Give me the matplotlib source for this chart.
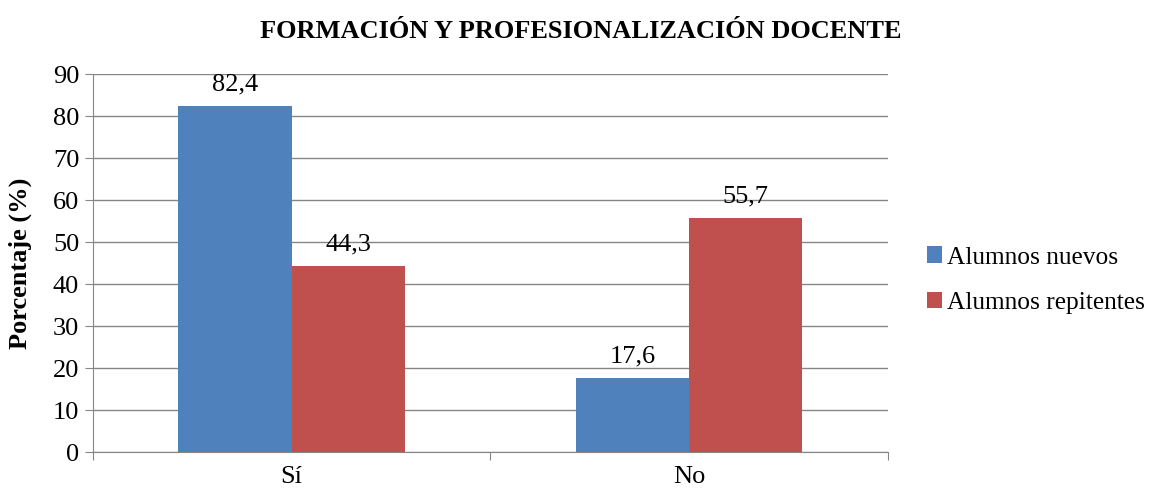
import matplotlib
matplotlib.use("Agg")
import matplotlib.pyplot as plt
import numpy as np

categories = ["Sí", "No"]
series_names = ["Alumnos nuevos", "Alumnos repitentes"]
nuevos = [82.4, 17.6]
repitentes = [44.3, 55.7]
yticks = list(range(0, 91, 10))

colors = ["#4F81BD", "#C0504D"]
plt.rcParams["font.family"] = ["Liberation Serif", "DejaVu Serif"]
fs = 19

fig = plt.figure(figsize=(11.57, 4.92), dpi=100)
ax = fig.add_axes([0.0804, 0.0813, 0.687, 0.768])

x = np.arange(len(categories))
width = 0.285
for i, (vals, name) in enumerate(zip([nuevos, repitentes], series_names)):
    pos = x + (i - 0.5) * width
    bars = ax.bar(pos, vals, width, color=colors[i], label=name, zorder=3)
    for b, v in zip(bars, vals):
        ax.text(b.get_x() + b.get_width() / 2, v + 2.6, f"{v:.1f}".replace(".", ","),
                ha="center", va="bottom", fontsize=fs)

ax.set_xlim(-0.5, 1.5)
ax.set_ylim(0, 90)
ax.set_yticks(yticks)
ax.set_yticklabels([str(t) for t in yticks], fontsize=fs)
ax.yaxis.grid(True, color="#868686", linewidth=1, zorder=0)
ax.set_xticks([-0.5, 0.5, 1.5], minor=False)
ax.set_xticklabels([])
ax.set_xticks(x, minor=True)
ax.set_xticklabels(categories, minor=True, fontsize=fs)
ax.tick_params(axis="x", which="minor", length=0, pad=10)
ax.tick_params(axis="x", which="major", length=6, color="#868686")
ax.tick_params(axis="y", length=6, color="#868686", pad=4)
for side in ["top", "right"]:
    ax.spines[side].set_visible(False)
for side in ["left", "bottom"]:
    ax.spines[side].set_color("#868686")

ax.set_ylabel("Porcentaje (%)", fontsize=fs, fontweight="bold", labelpad=15)
fig.suptitle("FORMACIÓN Y PROFESIONALIZACIÓN DOCENTE", fontsize=fs,
             fontweight="bold", x=0.502, y=0.96)

ax.legend(loc="center left", bbox_to_anchor=(1.02, 0.455), frameon=False,
          fontsize=18.3, handlelength=0.62, handleheight=0.62, labelspacing=0.9,
          handletextpad=0.2)

fig.savefig("out.png", dpi=100)
